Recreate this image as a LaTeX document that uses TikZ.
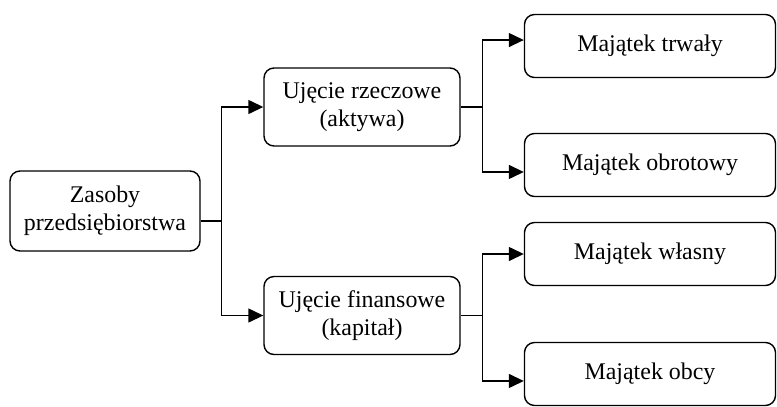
\documentclass[tikz,border=0pt]{standalone}
\usepackage{fontspec}
\setmainfont{Liberation Serif}
\usepackage{tikz}
\usetikzlibrary{arrows.meta,shapes,positioning}

\begin{document}
\begin{tikzpicture}[x=1bp, y=-1bp]
% STYLES
\tikzset{%
    block/.style={%
rectangle,
rounded corners=10bp,
draw=black,
line width=1.4bp,
inner sep=2pt,
align=center,
font=\fontsize{24}{28}\selectfont
                  },
    level1/.style={block, minimum width=190bp, minimum height=80bp},
    level2/.style={block, minimum width=196bp, minimum height=78bp},
    level3/.style={block, minimum width=251bp, minimum height=63bp},
    link/.style={line width=1.4bp, -{Triangle[length=15bp,width=14bp]}}
             }
\useasboundingbox (0,0) rectangle (777,406);

% Draw the blocks
\node [level1] (zasoby) at (105,211) {Zasoby\\przedsiębiorstwa};
\node [level2] (rzecz) at (362,107) {Ujęcie rzeczowe\\(aktywa)};
\node [level2] (finans) at (362,315.5) {Ujęcie finansowe\\(kapitał)};
\node [level3] (trwaly) at (650,46) {Majątek trwały};
\node [level3] (obrot) at (650,165) {Majątek obrotowy};
\node [level3] (wlasny) at (650,254) {Majątek własny};
\node [level3] (obcy) at (650,374) {Majątek obcy};

% Draw the links between blocks
\draw[link] ([yshift=-10pt]zasoby.east) -- ++(21,0) coordinate (j0) |- (rzecz.west);
\draw[link] (j0) |- (finans.west);
\draw[link] (rzecz.east) -- ++(22,0) coordinate (j1) |- ([yshift=6pt]trwaly.west);
\draw[link] (j1) |- ([yshift=-7pt]obrot.west);
\draw[link] (finans.east) -- ++(22,0) coordinate (j2) |- (wlasny.west);
\draw[link] (j2) |- ([yshift=-7pt]obcy.west);
\end{tikzpicture}
\end{document}
